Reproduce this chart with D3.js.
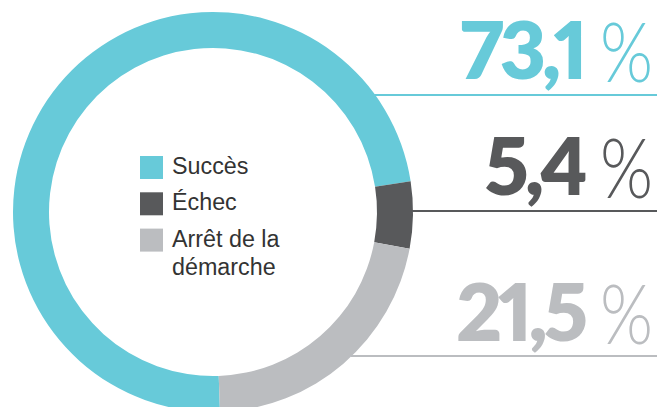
<!DOCTYPE html>
<html>
<head>
<meta charset="utf-8">
<script src="https://cdn.jsdelivr.net/npm/d3@7"></script>
<style>
  html, body { margin: 0; padding: 0; background: #fff; }
  svg { display: block; }
  .val { font-variant-numeric: proportional-nums; font-feature-settings: "pnum" 1; }
</style>
</head>
<body>
<svg id="chart" width="657" height="407"></svg>
<script>
// Outcome shares (percent)
const categories = ["Succès", "Échec", "Arrêt de la démarche"];
const values = [73.1, 5.4, 21.5];
const colors = ["#67cad9", "#58595b", "#bbbdc0"];
// Legend lines (the last category wraps on two lines)
const legendLines = [["Succès"], ["Échec"], ["Arrêt de la", "démarche"]];

const svg = d3.select("#chart");
const W = 657;
const cx = 213, cy = 212, R = 200, r = 164;

const fmt = d3.formatLocale({ decimal: ",", thousands: " ", grouping: [3], currency: ["", ""] }).format(".1f");

const pie = d3.pie()
  .sort(null)
  .value(d => d)
  .startAngle(178 * Math.PI / 180)
  .endAngle(178 * Math.PI / 180 + 2 * Math.PI);

const arc = d3.arc().innerRadius(r).outerRadius(R);

const ring = svg.append("g").attr("transform", `translate(${cx},${cy})`);
ring.selectAll("path")
  .data(pie(values))
  .join("path")
  .attr("d", arc)
  .attr("fill", (d, i) => colors[i]);

// Callout rows: leader line from the ring edge to the right margin, value above it
const rowLineY = [95, 211, 356];
const rowBaseY = [79, 195, 341];

values.forEach((v, i) => {
  const y = rowLineY[i];
  const x0 = cx + Math.sqrt(R * R - (y - cy) * (y - cy));
  svg.append("line")
    .attr("x1", x0 - 1).attr("x2", W)
    .attr("y1", y).attr("y2", y)
    .attr("stroke", colors[i])
    .attr("stroke-width", 2.2);

  svg.append("text")
    .attr("class", "val")
    .attr("x", 584)
    .attr("y", rowBaseY[i])
    .attr("text-anchor", "end")
    .attr("font-family", "Lato")
    .attr("font-weight", 800)
    .attr("font-size", 80)
    .attr("letter-spacing", -4)
    .attr("fill", colors[i])
    .text(fmt(v));

  svg.append("g")
    .attr("transform", `translate(600,${rowBaseY[i] + 3}) scale(0.82,1)`)
    .append("text")
    .attr("font-family", "Lato")
    .attr("font-weight", 300)
    .attr("font-size", 83)
    .attr("fill", colors[i])
    .text("%");
});

// Legend in the hole of the ring
const legend = svg.append("g");
let ty = 174;
legendLines.forEach((lines, i) => {
  legend.append("rect")
    .attr("x", 140).attr("y", ty - 18)
    .attr("width", 23).attr("height", 23)
    .attr("fill", colors[i]);
  lines.forEach((t, j) => {
    legend.append("text")
      .attr("x", 172)
      .attr("y", ty + j * 28.6)
      .attr("font-family", "Liberation Sans, Arial, sans-serif")
      .attr("font-size", 23.3)
      .attr("fill", "#333")
      .text(t);
  });
  ty += 36.3;
});
</script>
</body>
</html>
